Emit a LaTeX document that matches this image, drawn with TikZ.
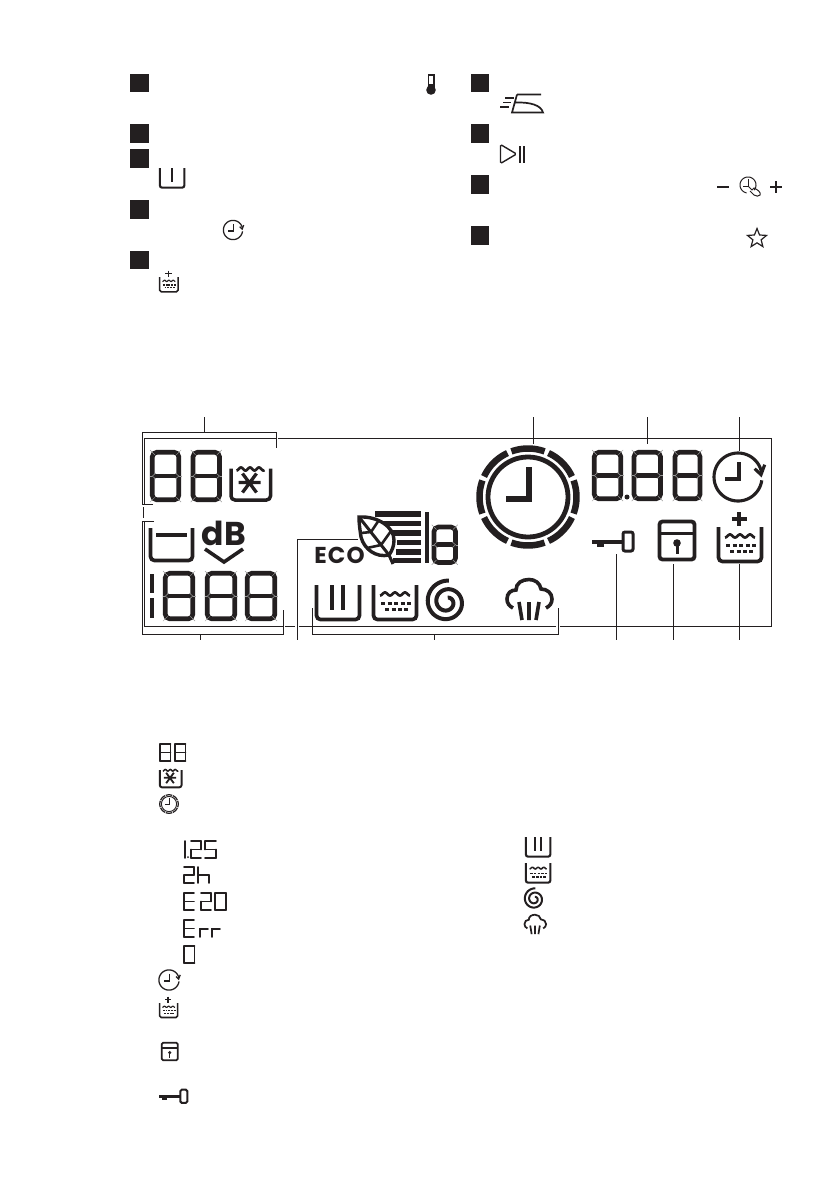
\documentclass[tikz,border=0pt]{standalone}
\usepackage{fontspec}
\usetikzlibrary{shapes.geometric}
\newfontfamily\lcdfont{Poppins}
\definecolor{inkblack}{HTML}{231F20}

\tikzset{
  keysq/.style={fill=inkblack,inner sep=0pt,minimum width=18.5pt,minimum height=18.5pt},
  leader/.style={line width=0.9pt,color=inkblack},
  lcdgap/.style={line width=0.5pt,color=black!40}
}

% seven segment pieces, unit square
\def\sega{(0,0)--(1,0)}
\def\segb{(1,0)--(1,.5)}
\def\segc{(1,.5)--(1,1)}
\def\segd{(0,1)--(1,1)}
\def\sege{(0,.5)--(0,1)}
\def\segf{(0,0)--(0,.5)}
\def\segg{(0,.5)--(1,.5)}

% x,y,w,h,width,segments
\newcommand{\lcdglyph}[6]{
  \begin{scope}[shift={(#1,#2)},x=#3pt,y=-#4pt,color=inkblack,line width=#5pt,line cap=round,line join=round]
  \foreach \s in {#6} {\draw \csname seg\s\endcsname;}
  \end{scope}
}
% big digit with the thin joints showing
\newcommand{\lcdeight}[4]{
  \begin{scope}[shift={(#1,#2)}]
  \draw[inkblack,line width=4.7pt,rounded corners=4.5pt] (0,0) rectangle (#3,#4);
  \draw[inkblack,line width=4.7pt] (0,#4/2) -- (#3,#4/2);
  \foreach \xa/\xb in {0/3.5,#3/#3-3.5} {
    \draw[lcdgap] ({\xb},#4/2-3) -- (\xa,#4/2) -- ({\xb},#4/2+3);
    \draw[lcdgap] (\xa,#4/2) -- ({\xa+(\xb-\xa)*(-0.8)},#4/2);
  }
  \draw[lcdgap] (-2.3,-2.3) -- (2.5,2.5);
  \draw[lcdgap] (#3+2.3,-2.3) -- (#3-2.5,2.5);
  \draw[lcdgap] (-2.3,#4+2.3) -- (2.5,#4-2.5);
  \draw[lcdgap] (#3+2.3,#4+2.3) -- (#3-2.5,#4-2.5);
  \end{scope}
}
% x,y,scale
\newcommand{\plaintub}[3]{
  \draw[shift={(#1,#2)},scale=#3,inkblack,line width=3.7pt*#3,rounded corners=4pt*#3]
    (1.5,0) -- (1.5,34.5) -- (44.5,34.5) -- (44.5,0);
}
\newcommand{\watertub}[3]{
  \plaintub{#1}{#2}{#3}
  \begin{scope}[shift={(#1,#2)},scale=#3,inkblack]
  \draw[line width=2.7pt*#3] plot[domain=8:38,samples=40] (\x,{9+1.5*cos(36*(\x-8))});
  \foreach \xx in {9,15.5,22,28.5,35} \draw[line width=3pt*#3] (\xx,18.5) -- (\xx+4.4,18.5);
  \foreach \xx in {13,19.5,26,32} \draw[line width=3pt*#3] (\xx,24.5) -- (\xx+4.4,24.5);
  \end{scope}
}
\newcommand{\plustub}[3]{
  \watertub{#1}{#2}{#3}
  \begin{scope}[shift={(#1,#2)},scale=#3,inkblack,line width=3.6pt*#3]
  \draw (22,-15) -- (22,-1) (14.5,-8) -- (29.5,-8);
  \end{scope}
}
\newcommand{\freezetub}[3]{
  \begin{scope}[shift={(#1,#2)},scale=#3,inkblack]
  \draw[line width=3.5pt*#3,rounded corners=4pt*#3] (1.5,0) -- (1.5,31.5) -- (41,31.5) -- (41,0);
  \draw[line width=2.7pt*#3] plot[domain=7:35,samples=40] (\x,{0.5+1.5*cos(40*(\x-7))});
  \draw[line width=3.3pt*#3] (9,14) -- (31,14) (13,5) -- (27,24) (27,5) -- (13,24);
  \end{scope}
}
\newcommand{\spiralicon}[3]{
  \draw[shift={(#1,#2)},scale=#3,inkblack,line width=4pt*#3]
    plot[domain=85:800,samples=120] ({(21.5-(\x-85)*0.024)*cos(\x)},{-(21.5-(\x-85)*0.024)*sin(\x)});
}
\newcommand{\steamicon}[3]{
  \begin{scope}[shift={(#1,#2)},scale=#3,inkblack,line width=3.6pt*#3]
  \draw (7,30) .. controls (3,28) and (1,25) .. (1,21) .. controls (1,15) and (5,12) .. (10,12)
    .. controls (10,5) and (16,1.5) .. (23,1.5) .. controls (29,1.5) and (34,5) .. (35,11)
    .. controls (41,11) and (46,15) .. (46,21) .. controls (46,25) and (44,28) .. (40,30);
  \draw (13,24) -- (16,42) (23,24) -- (23,42) (33,24) -- (30,42);
  \end{scope}
}
\newcommand{\timericon}[3]{
  \begin{scope}[shift={(#1,#2)},scale=#3,inkblack,line width=3.1pt*#3]
  \draw plot[domain=12:352,samples=70] ({24*cos(\x)},{-24*sin(\x)});
  \draw (16.7,-8.3) -- (23,-2.3) -- (26.7,-12.3);
  \draw[line width=3.6pt*#3] (1,-15) -- (1,2) -- (-13,2);
  \end{scope}
}
\newcommand{\ringclock}[3]{
  \begin{scope}[shift={(#1,#2)},scale=#3,inkblack]
  \foreach \a in {0,45,...,315}
    \draw[line width=6.5pt*#3] plot[domain=\a-20:\a+20,samples=14] ({48.5*cos(\x)},{-48.5*sin(\x)});
  \draw[line width=4.8pt*#3] (0,0) circle (40);
  \draw[line width=6pt*#3] (1,-30) -- (1,2) -- (-22,2);
  \end{scope}
}
\newcommand{\keyicon}[3]{
  \begin{scope}[shift={(#1,#2)},scale=#3,inkblack]
  \draw[line width=3.6pt*#3] (0,11) -- (31,11);
  \fill (5,11) rectangle (12,16);
  \draw[line width=3pt*#3,rounded corners=2pt*#3] (31,1) rectangle (41,20);
  \end{scope}
}
\newcommand{\lockicon}[3]{
  \begin{scope}[shift={(#1,#2)},scale=#3,inkblack]
  \draw[line width=3.8pt*#3,rounded corners=3pt*#3] (1.5,1.5) rectangle (36.5,39.5);
  \draw[line width=3.8pt*#3] (1.5,13.5) -- (36.5,13.5);
  \fill (19,23) circle (3.8);
  \draw[line width=3pt*#3] (19,23) -- (19,34);
  \end{scope}
}

\begin{document}
\begin{tikzpicture}[x=1pt,y=-1pt]
\useasboundingbox (0,0) rectangle (839,1191);

% numbered keys
\foreach \n/\px/\py in {1/139.5/83,2/139.5/133.5,3/139.5/158.5,4/139.5/209.5,5/139.5/260,
  6/480/83,7/480/133.5,8/480/184.5,9/480/235.5}
  \node (key\n) [keysq] at (\px,\py) {};

% icons beside the keys
\draw[inkblack,line width=1.6pt] (428.3,90) -- (428.3,75) -- (433.7,75) -- (433.7,90);
\fill[inkblack] (431,90) circle (4.8);
\fill[inkblack] (428.3,84) rectangle (433.7,90);
\plaintub{159}{168}{0.57}
\draw[inkblack,line width=1.8pt] (172,168) -- (172,182);
\timericon{233}{230}{0.4}
\plustub{159}{277}{0.43}
\draw[inkblack,line width=1.7pt] (517,94.5) -- (541,94.5) (517,94.5) -- (512,112.5) -- (543,112.5)
  .. controls (541,105) and (530,102) .. (515,102.5);
\draw[inkblack,line width=1.7pt] (505,98) -- (514,98) (503,102.5) -- (511,102.5) (500,107) -- (509,107);
\draw[inkblack,line width=1.4pt,rounded corners=1.5pt] (500.5,144.5) -- (516.5,154) -- (500.5,163.5) -- cycle;
\draw[inkblack,line width=1.4pt] (520,146) -- (520,163) (524,146) -- (524,163);
\draw[inkblack,line width=1.1pt] (717,187) -- (729,187) (770,187) -- (782,187) (776,181) -- (776,193);
\draw[inkblack,line width=1pt] plot[domain=-40:260,samples=40] ({748+8*cos(\x)},{185-8*sin(\x)});
\draw[inkblack,line width=1pt] (748,179) -- (748,186) -- (743,186);
\draw[inkblack,line width=1pt] (748,186) -- (752,190) -- (754,188) .. controls (758,190) and (761,192) .. (760,195)
  .. controls (759,197) and (756,196) .. (754,195) -- (750,191);
\node (favstar) [star,star points=5,star point ratio=2.3,draw=inkblack,line width=1.2pt,inner sep=0pt,minimum size=20pt] at (757,238.5) {};

% display frame
\draw[leader] (204,417) -- (204,432);
\draw[leader] (153,504) -- (142,504) -- (142,432) -- (276,432) -- (276,448);
\draw[leader] (144,504) -- (144,438) -- (276,438);
\draw[leader] (278,438) -- (771,438) -- (771,626) -- (560,626);
\draw[leader] (556,626) -- (299,626);
\draw[leader] (295,626) -- (285,626);
\draw[leader] (143.5,507) -- (143.5,518);
\draw[leader] (154,521) -- (142,521) -- (142,634) -- (283,634) -- (283,610);
\draw[leader] (144,522) -- (144,626) -- (283,626);
\draw[leader] (200,634) -- (200,640);
\draw[leader] (358,539) -- (297,539) -- (297,640);
\draw[leader] (312,608) -- (312,634) -- (558,634) -- (558,608);
\draw[leader] (434,634) -- (434,640);
\draw[leader] (533,417) -- (533,444);
\draw[leader] (647,417) -- (647,444);
\draw[leader] (739,417) -- (739,451);
\draw[leader] (616,554) -- (616,640);
\draw[leader] (673,564) -- (673,640);
\draw[leader] (739,564) -- (739,640);

% display contents
\lcdeight{152.3}{452.3}{26.5}{47.5}
\lcdeight{193}{452.3}{26.5}{47.5}
\freezetub{229.5}{468.5}{1}
\draw[inkblack,line width=3.7pt,rounded corners=4pt] (150.5,528) -- (150.5,560.5) -- (192.5,560.5) -- (192.5,528);
\draw[inkblack,line width=3.7pt] (156,535) -- (187,535);
\node (db) [inkblack,inner sep=0pt,anchor=base] at (224,545) {\lcdfont\bfseries\fontsize{33}{33}\selectfont dB};
\draw[inkblack,line width=3.6pt] (205,549) -- (224,562) -- (243,549);
\draw[inkblack,line width=4.5pt] (152,574) -- (152,593) (152,598) -- (152,618);
\lcdeight{165.3}{573.3}{27.5}{45.5}
\lcdeight{207.3}{573.3}{27.5}{45.5}
\lcdeight{247.3}{573.3}{27.5}{45.5}
\node (eco) [inkblack,inner sep=0pt,anchor=base] at (339.5,563.5) {\lcdfont\bfseries\fontsize{23}{23}\addfontfeature{LetterSpace=5}\selectfont ECO};
% leaf and bars
\foreach \ya/\xa in {514/375,523.5/383,533/393,542.5/397,552/396,560.5/393}
  \draw[inkblack,line width=5.4pt] (\xa,\ya) -- (421,\ya);
\draw[inkblack,line width=3.4pt] (427,512) -- (427,563);
\draw[inkblack,line width=3.4pt,fill=white] (359,517) .. controls (378,516) and (394,527) .. (394,540)
  .. controls (394,546) and (392,551) .. (389,555) .. controls (376,558) and (364,549) .. (361,537)
  .. controls (360,530) and (359,524) .. (359,517) -- cycle;
\draw[inkblack,line width=3pt] (359,517) -- (389,555) -- (393,564);
\draw[inkblack,line width=2.6pt] (371,532) -- (379,520) (371,532) -- (361,533) (381,545) -- (391,531) (381,545) -- (367,548);
\lcdeight{434}{527}{21.5}{35.5}
\plaintub{315}{585}{1}
\draw[inkblack,line width=3.6pt] (332,585) -- (332,610) (343,585) -- (343,610);
\watertub{372}{585}{1}
\spiralicon{447}{602}{1}
\steamicon{506}{578}{1}
\ringclock{528}{497}{1}
\lcdeight{594.3}{452.3}{26.5}{46.5}
\lcdeight{634}{452.3}{26.5}{46.5}
\lcdeight{675}{452.3}{25}{46.5}
\fill[inkblack] (627,497) circle (2.5);
\timericon{738}{477}{1}
\keyicon{592}{531}{1}
\lockicon{658}{520}{1}
\plustub{717}{527}{1}

% legend icons
\lcdglyph{160}{744}{10.5}{17}{1.7}{a,b,c,d,e,f,g}
\lcdglyph{175}{744}{10.5}{17}{1.7}{a,b,c,d,e,f,g}
\freezetub{159}{770}{0.55}
\ringclock{169}{804}{0.19}
\lcdglyph{185}{841}{0}{17}{1.8}{b,c}
\fill[inkblack] (188,857) circle (1);
\lcdglyph{191}{841}{10}{17}{1.7}{a,b,g,e,d}
\lcdglyph{205}{841}{11}{17}{1.7}{a,f,g,c,d}
\lcdglyph{184}{867}{10}{16}{1.7}{a,b,g,e,d}
\lcdglyph{198}{867}{11}{16}{1.7}{f,e,g,c}
\lcdglyph{184}{893}{10}{17}{1.7}{a,f,g,e,d}
\lcdglyph{201}{893}{10}{17}{1.7}{a,b,g,e,d}
\lcdglyph{215}{893}{11}{17}{1.7}{a,b,c,d,e,f}
\lcdglyph{184}{920}{10}{17}{1.7}{a,f,g,e,d}
\draw[inkblack,line width=1.7pt,line cap=round] (200,937) -- (200,929) -- (208,929) (212,937) -- (212,929) -- (220,929);
\lcdglyph{184}{946}{10.5}{17}{1.7}{a,b,c,d,e,f}
\timericon{169}{980}{0.42}
\plustub{159}{1003}{0.42}
\lockicon{161}{1042}{0.46}
\keyicon{159}{1089}{0.69}
\plaintub{525}{837}{0.57}
\draw[inkblack,line width=1.8pt] (535,837) -- (535,851) (541,837) -- (541,851);
\watertub{525}{863}{0.57}
\spiralicon{534.5}{899}{0.5}
\steamicon{524}{914}{0.48}
\end{tikzpicture}
\end{document}
